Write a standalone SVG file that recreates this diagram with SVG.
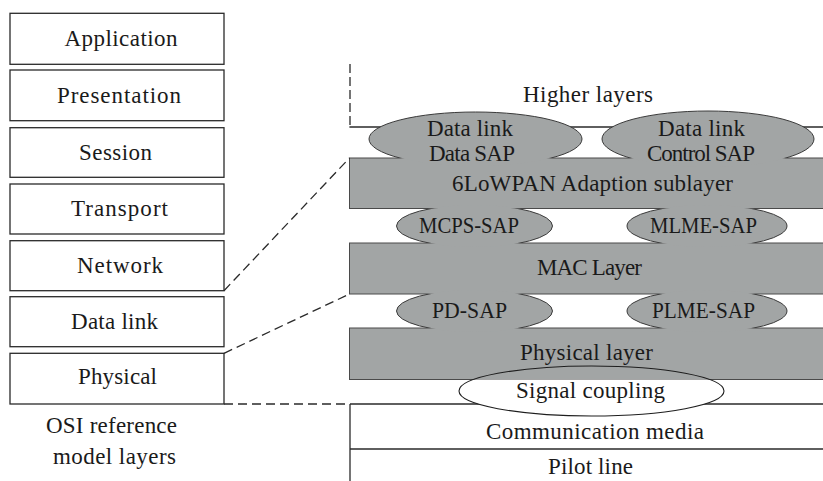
<svg xmlns="http://www.w3.org/2000/svg" width="823" height="481" viewBox="0 0 823 481">
<style>
text{font-family:"Liberation Serif","Times New Roman",serif;font-size:23px;fill:#1a1a1a;text-anchor:middle}
.box{fill:#fff;stroke:#2a2a2a;stroke-width:1.3}
.band{fill:#a2a5a5;stroke:#4a4a4a;stroke-width:1}
.sapfill{fill:#a2a5a5;stroke:none}
.sapline{fill:none;stroke:#3a3a3a;stroke-width:1}
.solid{fill:none;stroke:#2a2a2a;stroke-width:1.3}
.dash{fill:none;stroke:#2a2a2a;stroke-width:1.3;stroke-dasharray:9 5}
</style>
<defs>
<clipPath id="gap1" clipPathUnits="userSpaceOnUse"><rect x="340" y="90" width="490" height="68"/></clipPath>
<clipPath id="gap2" clipPathUnits="userSpaceOnUse"><rect x="340" y="208.5" width="490" height="34.5"/></clipPath>
<clipPath id="gap3" clipPathUnits="userSpaceOnUse"><rect x="340" y="294" width="490" height="34"/></clipPath>
<clipPath id="below" clipPathUnits="userSpaceOnUse"><rect x="340" y="379.5" width="490" height="60"/></clipPath>
</defs>

<!-- OSI stack -->
<g id="osi-application"><rect class="box" x="10" y="13.3" width="214" height="51"/><text x="121" y="45.5" textLength="113" lengthAdjust="spacing">Application</text></g>
<g id="osi-presentation"><rect class="box" x="10" y="70" width="214" height="50.7"/><text x="119" y="102.5" textLength="124" lengthAdjust="spacing">Presentation</text></g>
<g id="osi-session"><rect class="box" x="10" y="127.7" width="214" height="49.6"/><text x="115.5" y="159.5" textLength="73" lengthAdjust="spacing">Session</text></g>
<g id="osi-transport"><rect class="box" x="10" y="184" width="214" height="50"/><text x="119.5" y="216" textLength="97" lengthAdjust="spacing">Transport</text></g>
<g id="osi-network"><rect class="box" x="10" y="240.7" width="214" height="50"/><text x="120" y="273" textLength="86" lengthAdjust="spacing">Network</text></g>
<g id="osi-datalink"><rect class="box" x="10" y="296.7" width="214" height="50"/><text x="114.5" y="329" textLength="87" lengthAdjust="spacing">Data link</text></g>
<g id="osi-physical"><rect class="box" x="10" y="353.3" width="214" height="50.7"/><text x="117.5" y="384" textLength="79" lengthAdjust="spacing">Physical</text></g>
<g id="osi-caption"><text x="111.5" y="433" textLength="131" lengthAdjust="spacing">OSI reference</text><text x="114.5" y="464" textLength="123" lengthAdjust="spacing">model layers</text></g>

<!-- Higher layers -->
<g id="higher-layers">
<line class="dash" x1="350" y1="64" x2="350" y2="127" style="stroke-dasharray:9 4"/>
<line class="solid" x1="349.4" y1="127" x2="823" y2="127"/>
<text x="588" y="102" textLength="130" lengthAdjust="spacing">Higher layers</text>
</g>

<!-- bands -->
<g id="adaption-layer"><rect class="band" x="349.5" y="158" width="480" height="50.5"/></g>
<g id="mac-layer"><rect class="band" x="349.5" y="243" width="480" height="51"/></g>
<g id="physical-layer"><rect class="band" x="349.5" y="328" width="480" height="51.5"/></g>

<!-- SAPs -->
<g id="data-sap">
<ellipse class="sapfill" cx="475.5" cy="139" rx="106.5" ry="27"/>
<ellipse class="sapline" cx="475.5" cy="139" rx="106.5" ry="27" clip-path="url(#gap1)"/>
<text x="470" y="136" textLength="86" lengthAdjust="spacing">Data link</text>
<text x="472" y="161" textLength="86" lengthAdjust="spacing">Data SAP</text>
</g>
<g id="control-sap">
<ellipse class="sapfill" cx="708" cy="139" rx="106" ry="28"/>
<ellipse class="sapline" cx="708" cy="139" rx="106" ry="28" clip-path="url(#gap1)"/>
<text x="701.5" y="136" textLength="87" lengthAdjust="spacing">Data link</text>
<text x="701" y="161" textLength="108" lengthAdjust="spacing">Control SAP</text>
</g>
<g id="mcps-sap">
<ellipse class="sapfill" cx="474.5" cy="226" rx="78" ry="21"/>
<ellipse class="sapline" cx="474.5" cy="226" rx="78" ry="21" clip-path="url(#gap2)"/>
<text x="469" y="233" textLength="100" lengthAdjust="spacingAndGlyphs">MCPS-SAP</text>
</g>
<g id="mlme-sap">
<ellipse class="sapfill" cx="707" cy="226" rx="80" ry="21"/>
<ellipse class="sapline" cx="707" cy="226" rx="80" ry="21" clip-path="url(#gap2)"/>
<text x="703.5" y="233" textLength="107" lengthAdjust="spacingAndGlyphs">MLME-SAP</text>
</g>
<g id="pd-sap">
<ellipse class="sapfill" cx="474.5" cy="311" rx="78" ry="21"/>
<ellipse class="sapline" cx="474.5" cy="311" rx="78" ry="21" clip-path="url(#gap3)"/>
<text x="469.5" y="318" textLength="75" lengthAdjust="spacingAndGlyphs">PD-SAP</text>
</g>
<g id="plme-sap">
<ellipse class="sapfill" cx="707" cy="311" rx="80" ry="21"/>
<ellipse class="sapline" cx="707" cy="311" rx="80" ry="21" clip-path="url(#gap3)"/>
<text x="703.5" y="318" textLength="103" lengthAdjust="spacingAndGlyphs">PLME-SAP</text>
</g>

<!-- band labels -->
<g id="band-labels">
<text x="592.5" y="191" textLength="281" lengthAdjust="spacing">6LoWPAN Adaption sublayer</text>
<text x="589.5" y="275" textLength="105" lengthAdjust="spacing">MAC Layer</text>
<text x="586.5" y="359.5" textLength="133" lengthAdjust="spacing">Physical layer</text>
</g>

<!-- media -->
<g id="communication-media">
<line class="solid" x1="350" y1="404" x2="823" y2="404"/>
<line class="solid" x1="350" y1="449" x2="823" y2="449"/>
<line class="solid" x1="350" y1="404" x2="350" y2="481"/>
<text x="595" y="439" textLength="218" lengthAdjust="spacing">Communication media</text>
</g>
<g id="pilot-line"><text x="590.5" y="474" textLength="85" lengthAdjust="spacing">Pilot line</text></g>

<g id="signal-coupling">
<ellipse cx="591.5" cy="391" rx="132.5" ry="25" fill="#fff" clip-path="url(#below)"/>
<ellipse cx="591.5" cy="391" rx="132.5" ry="25" fill="none" stroke="#1e1e1e" stroke-width="1.1"/>
<text x="590.5" y="398" textLength="149" lengthAdjust="spacing">Signal coupling</text>
</g>

<!-- connectors -->
<g id="connectors">
<line class="dash" x1="224" y1="290.7" x2="349.5" y2="158"/>
<line class="dash" x1="224" y1="353.3" x2="349.5" y2="294"/>
<line class="dash" x1="224" y1="404" x2="350" y2="404"/>
</g>
</svg>
